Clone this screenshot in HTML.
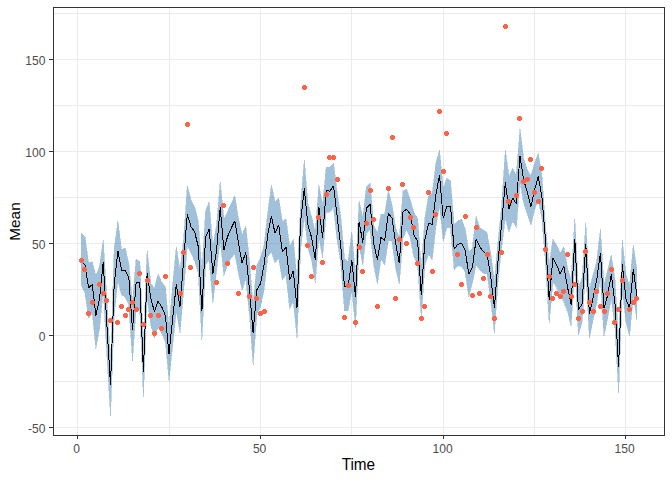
<!DOCTYPE html>
<html><head><meta charset="utf-8"><title>plot</title>
<style>html,body{margin:0;padding:0;background:#fff;}svg{display:block;}text{font-family:"Liberation Sans",sans-serif;}</style></head>
<body>
<svg width="672" height="480" viewBox="0 0 672 480">
<rect x="0" y="0" width="672" height="480" fill="#ffffff"/>
<defs><clipPath id="cp"><rect x="53.50" y="7.50" width="611.20" height="428.00"/></clipPath></defs>
<g stroke="#ebebeb" stroke-width="1" shape-rendering="crispEdges"><line x1="54.00" x2="664.00" y1="427.50" y2="427.50"/><line x1="54.00" x2="664.00" y1="381.50" y2="381.50"/><line x1="54.00" x2="664.00" y1="335.50" y2="335.50"/><line x1="54.00" x2="664.00" y1="289.50" y2="289.50"/><line x1="54.00" x2="664.00" y1="243.50" y2="243.50"/><line x1="54.00" x2="664.00" y1="197.50" y2="197.50"/><line x1="54.00" x2="664.00" y1="151.50" y2="151.50"/><line x1="54.00" x2="664.00" y1="105.50" y2="105.50"/><line x1="54.00" x2="664.00" y1="59.50" y2="59.50"/><line x1="54.00" x2="664.00" y1="13.50" y2="13.50"/><line x1="77.50" x2="77.50" y1="8.00" y2="435.00"/><line x1="169.50" x2="169.50" y1="8.00" y2="435.00"/><line x1="260.50" x2="260.50" y1="8.00" y2="435.00"/><line x1="351.50" x2="351.50" y1="8.00" y2="435.00"/><line x1="443.50" x2="443.50" y1="8.00" y2="435.00"/><line x1="534.50" x2="534.50" y1="8.00" y2="435.00"/><line x1="625.50" x2="625.50" y1="8.00" y2="435.00"/></g>
<g opacity="0.5"><polygon points="81.3,233.0 85.0,236.7 88.6,263.0 92.3,261.5 95.9,275.8 99.6,266.0 103.2,239.5 106.9,299.0 110.5,363.0 114.2,248.3 117.9,220.5 121.5,249.2 125.2,248.0 128.8,263.3 132.5,302.0 136.1,259.2 139.8,261.7 143.4,346.7 147.1,250.5 150.8,282.5 154.4,288.3 158.1,274.2 161.7,282.0 165.4,286.7 169.0,328.0 172.7,285.0 176.3,246.7 180.0,271.0 183.7,238.0 187.3,185.8 191.0,200.0 194.6,206.7 198.3,221.7 201.9,270.0 205.6,210.8 209.2,201.7 212.9,246.7 216.6,225.0 220.2,182.0 223.9,219.0 227.5,211.7 231.2,203.3 234.8,195.8 238.5,219.0 242.1,235.0 245.8,225.8 249.5,262.0 253.1,305.0 256.8,265.0 260.4,258.0 264.1,245.0 267.7,213.0 271.4,185.0 275.0,201.7 278.7,198.0 282.4,221.7 286.0,218.7 289.7,246.7 293.3,239.0 297.0,280.0 300.6,205.0 304.3,160.0 307.9,203.3 311.6,216.7 315.3,232.0 318.9,185.0 322.6,205.0 326.2,167.0 329.9,167.0 333.5,163.0 337.2,193.0 340.8,216.7 344.5,258.0 348.1,261.7 351.8,232.0 355.5,275.0 359.1,200.8 362.8,218.0 366.4,186.7 370.1,183.0 373.7,225.0 377.4,233.0 381.0,214.0 384.7,214.0 388.4,190.8 392.0,205.0 395.7,228.0 399.3,238.0 403.0,190.8 406.6,189.0 410.3,200.0 413.9,212.5 417.6,218.0 421.3,268.0 424.9,218.0 428.6,195.8 432.2,193.3 435.9,163.3 439.5,150.0 443.2,188.3 446.8,178.0 450.5,180.8 454.2,225.0 457.8,220.8 461.5,219.2 465.1,228.3 468.8,251.7 472.4,247.5 476.1,216.3 479.7,227.5 483.4,230.0 487.1,232.5 490.7,253.0 494.4,282.0 498.0,241.7 501.7,205.0 505.3,150.0 509.0,176.7 512.6,168.3 516.3,175.0 520.0,129.2 523.6,158.3 527.3,170.0 530.9,175.8 534.6,163.3 538.2,153.3 541.9,175.0 545.5,226.7 549.2,265.0 552.9,239.2 556.5,245.0 560.2,253.0 563.8,246.7 567.5,268.0 571.1,280.0 574.8,219.2 578.4,287.0 582.1,278.0 585.8,223.3 589.4,290.0 593.1,275.0 596.7,261.7 600.4,229.2 604.0,285.0 607.7,270.0 611.3,255.0 615.0,280.0 618.6,340.0 622.3,240.0 626.0,275.0 629.6,285.0 633.3,245.0 636.9,270.0 636.9,320.0 633.3,295.0 629.6,335.8 626.0,322.0 622.3,290.0 618.6,393.0 615.0,328.0 611.3,298.0 607.7,318.0 604.0,335.8 600.4,278.0 596.7,303.0 593.1,320.0 589.4,338.3 585.8,268.0 582.1,322.0 578.4,335.0 574.8,262.0 571.1,326.3 567.5,311.0 563.8,301.5 560.2,294.5 556.5,287.5 552.9,282.0 549.2,323.3 545.5,262.0 541.9,218.0 538.2,200.0 534.6,210.0 530.9,225.0 527.3,214.0 523.6,203.0 520.0,180.5 516.3,227.5 512.6,221.0 509.0,231.5 505.3,217.5 501.7,246.7 498.0,281.7 494.4,333.0 490.7,300.0 487.1,274.0 483.4,273.3 479.7,270.0 476.1,265.0 472.4,283.0 468.8,296.7 465.1,271.7 461.5,266.7 457.8,265.8 454.2,270.0 450.5,227.5 446.8,227.5 443.2,240.8 439.5,205.0 435.9,226.7 432.2,260.0 428.6,254.0 424.9,265.0 421.3,317.5 417.6,264.0 413.9,256.7 410.3,237.5 406.6,230.0 403.0,238.0 399.3,284.2 395.7,268.3 392.0,241.7 388.4,240.0 384.7,265.0 381.0,259.0 377.4,284.0 373.7,265.0 370.1,230.0 366.4,233.0 362.8,265.0 359.1,245.0 355.5,327.5 351.8,290.0 348.1,310.8 344.5,310.8 340.8,263.0 337.2,240.0 333.5,206.5 329.9,212.0 326.2,212.0 322.6,257.5 318.9,236.7 315.3,282.5 311.6,260.0 307.9,248.0 304.3,216.0 300.6,250.0 297.0,337.5 293.3,301.7 289.7,309.0 286.0,275.0 282.4,280.0 278.7,258.0 275.0,263.0 271.4,252.0 267.7,256.7 264.1,290.0 260.4,306.7 256.8,315.0 253.1,364.7 249.5,315.0 245.8,277.5 242.1,290.0 238.5,273.3 234.8,254.0 231.2,258.0 227.5,265.0 223.9,275.8 220.2,240.0 216.6,270.0 212.9,303.3 209.2,260.0 205.6,265.0 201.9,339.7 198.3,273.3 194.6,260.8 191.0,253.3 187.3,245.0 183.7,290.0 180.0,332.5 176.3,311.0 172.7,345.0 169.0,380.5 165.4,342.0 161.7,333.0 158.1,327.0 154.4,338.0 150.8,325.0 147.1,298.0 143.4,396.7 139.8,310.0 136.1,308.0 132.5,360.8 128.8,305.0 125.2,297.0 121.5,295.0 117.9,280.0 114.2,315.0 110.5,415.8 106.9,355.0 103.2,290.0 99.6,328.0 95.9,348.7 92.3,313.0 88.6,318.3 85.0,293.0 81.3,285.0" fill="#4682b4" stroke="#4682b4" stroke-width="0.6" stroke-linejoin="miter" stroke-miterlimit="30" shape-rendering="crispEdges"/></g>
<polyline points="81.3,260.5 85.0,265.3 88.6,288.0 92.3,284.5 95.9,315.8 99.6,298.0 103.2,262.5 106.9,325.0 110.5,385.0 114.2,284.0 117.9,250.8 121.5,270.0 125.2,270.0 128.8,277.5 132.5,330.0 136.1,282.5 139.8,283.0 143.4,371.7 147.1,273.3 150.8,298.3 154.4,311.7 158.1,301.3 161.7,306.7 165.4,315.8 169.0,354.0 172.7,318.0 176.3,284.5 180.0,306.5 183.7,259.5 187.3,214.2 191.0,226.7 194.6,231.7 198.3,246.7 201.9,311.0 205.6,236.7 209.2,229.2 212.9,273.5 216.6,250.0 220.2,207.5 223.9,250.0 227.5,236.7 231.2,228.3 234.8,220.8 238.5,243.3 242.1,263.0 245.8,252.5 249.5,290.0 253.1,332.5 256.8,290.0 260.4,283.7 264.1,265.0 267.7,235.0 271.4,215.8 275.0,233.3 278.7,225.0 282.4,252.0 286.0,247.0 289.7,280.0 293.3,270.8 297.0,308.0 300.6,221.7 304.3,188.3 307.9,225.0 311.6,237.5 315.3,260.0 318.9,207.5 322.6,237.5 326.2,190.0 329.9,191.3 333.5,185.8 337.2,216.7 340.8,246.7 344.5,286.2 348.1,286.7 351.8,260.0 355.5,296.7 359.1,221.7 362.8,242.5 366.4,208.3 370.1,204.2 373.7,243.3 377.4,260.0 381.0,237.5 384.7,240.5 388.4,213.3 392.0,218.3 395.7,243.3 399.3,263.3 403.0,211.7 406.6,209.2 410.3,214.5 413.9,235.0 417.6,241.0 421.3,295.0 424.9,240.0 428.6,223.0 432.2,224.5 435.9,195.0 439.5,175.0 443.2,218.3 446.8,206.3 450.5,206.3 454.2,249.2 457.8,244.2 461.5,243.3 465.1,250.0 468.8,274.0 472.4,267.5 476.1,239.2 479.7,246.7 483.4,251.7 487.1,254.2 490.7,276.7 494.4,307.5 498.0,261.7 501.7,223.3 505.3,182.5 509.0,208.5 512.6,198.0 516.3,203.7 520.0,155.8 523.6,180.0 527.3,191.7 530.9,206.7 534.6,190.0 538.2,176.3 541.9,196.7 545.5,240.0 549.2,300.0 552.9,258.3 556.5,264.5 560.2,274.0 563.8,266.0 567.5,287.0 571.1,304.5 574.8,239.2 578.4,309.8 582.1,304.0 585.8,244.2 589.4,314.0 593.1,298.0 596.7,280.0 600.4,253.0 604.0,308.3 607.7,295.0 611.3,274.2 615.0,304.0 618.6,366.7 622.3,264.2 626.0,299.0 629.6,308.3 633.3,269.2 636.9,296.0" fill="none" stroke="#000000" stroke-width="1" stroke-linejoin="bevel" shape-rendering="crispEdges"/>
<path d="M80.0 258.0h3v1h1v3h-1v1h-3v-1h-1v-3h1zM83.0 267.0h3v1h1v3h-1v1h-3v-1h-1v-3h1zM87.0 311.0h3v1h1v3h-1v1h-3v-1h-1v-3h1zM91.0 300.0h3v1h1v3h-1v1h-3v-1h-1v-3h1zM98.0 282.0h3v1h1v3h-1v1h-3v-1h-1v-3h1zM102.0 291.0h3v1h1v3h-1v1h-3v-1h-1v-3h1zM105.0 298.0h3v1h1v3h-1v1h-3v-1h-1v-3h1zM109.0 318.0h3v1h1v3h-1v1h-3v-1h-1v-3h1zM116.0 320.0h3v1h1v3h-1v1h-3v-1h-1v-3h1zM120.0 304.0h3v1h1v3h-1v1h-3v-1h-1v-3h1zM124.0 313.0h3v1h1v3h-1v1h-3v-1h-1v-3h1zM127.0 307.0h3v1h1v3h-1v1h-3v-1h-1v-3h1zM131.0 300.0h3v1h1v3h-1v1h-3v-1h-1v-3h1zM135.0 307.0h3v1h1v3h-1v1h-3v-1h-1v-3h1zM138.0 271.0h3v1h1v3h-1v1h-3v-1h-1v-3h1zM142.0 322.0h3v1h1v3h-1v1h-3v-1h-1v-3h1zM146.0 278.0h3v1h1v3h-1v1h-3v-1h-1v-3h1zM149.0 313.0h3v1h1v3h-1v1h-3v-1h-1v-3h1zM153.0 331.0h3v1h1v3h-1v1h-3v-1h-1v-3h1zM157.0 313.0h3v1h1v3h-1v1h-3v-1h-1v-3h1zM160.0 326.0h3v1h1v3h-1v1h-3v-1h-1v-3h1zM164.0 274.0h3v1h1v3h-1v1h-3v-1h-1v-3h1zM179.0 291.0h3v1h1v3h-1v1h-3v-1h-1v-3h1zM182.0 250.0h3v1h1v3h-1v1h-3v-1h-1v-3h1zM186.0 122.0h3v1h1v3h-1v1h-3v-1h-1v-3h1zM189.0 265.0h3v1h1v3h-1v1h-3v-1h-1v-3h1zM215.0 280.0h3v1h1v3h-1v1h-3v-1h-1v-3h1zM222.0 203.0h3v1h1v3h-1v1h-3v-1h-1v-3h1zM226.0 261.0h3v1h1v3h-1v1h-3v-1h-1v-3h1zM237.0 291.0h3v1h1v3h-1v1h-3v-1h-1v-3h1zM248.0 294.0h3v1h1v3h-1v1h-3v-1h-1v-3h1zM252.0 265.0h3v1h1v3h-1v1h-3v-1h-1v-3h1zM255.0 296.0h3v1h1v3h-1v1h-3v-1h-1v-3h1zM259.0 311.0h3v1h1v3h-1v1h-3v-1h-1v-3h1zM263.0 309.0h3v1h1v3h-1v1h-3v-1h-1v-3h1zM303.0 85.0h3v1h1v3h-1v1h-3v-1h-1v-3h1zM306.0 243.0h3v1h1v3h-1v1h-3v-1h-1v-3h1zM310.0 274.0h3v1h1v3h-1v1h-3v-1h-1v-3h1zM317.0 215.0h3v1h1v3h-1v1h-3v-1h-1v-3h1zM321.0 260.0h3v1h1v3h-1v1h-3v-1h-1v-3h1zM325.0 192.0h3v1h1v3h-1v1h-3v-1h-1v-3h1zM328.0 155.0h3v1h1v3h-1v1h-3v-1h-1v-3h1zM332.0 155.0h3v1h1v3h-1v1h-3v-1h-1v-3h1zM336.0 177.0h3v1h1v3h-1v1h-3v-1h-1v-3h1zM343.0 315.0h3v1h1v3h-1v1h-3v-1h-1v-3h1zM347.0 283.0h3v1h1v3h-1v1h-3v-1h-1v-3h1zM354.0 320.0h3v1h1v3h-1v1h-3v-1h-1v-3h1zM358.0 245.0h3v1h1v3h-1v1h-3v-1h-1v-3h1zM361.0 269.0h3v1h1v3h-1v1h-3v-1h-1v-3h1zM365.0 221.0h3v1h1v3h-1v1h-3v-1h-1v-3h1zM369.0 188.0h3v1h1v3h-1v1h-3v-1h-1v-3h1zM372.0 217.0h3v1h1v3h-1v1h-3v-1h-1v-3h1zM376.0 304.0h3v1h1v3h-1v1h-3v-1h-1v-3h1zM387.0 186.0h3v1h1v3h-1v1h-3v-1h-1v-3h1zM391.0 135.0h3v1h1v3h-1v1h-3v-1h-1v-3h1zM394.0 296.0h3v1h1v3h-1v1h-3v-1h-1v-3h1zM398.0 237.0h3v1h1v3h-1v1h-3v-1h-1v-3h1zM401.0 182.0h3v1h1v3h-1v1h-3v-1h-1v-3h1zM405.0 241.0h3v1h1v3h-1v1h-3v-1h-1v-3h1zM409.0 215.0h3v1h1v3h-1v1h-3v-1h-1v-3h1zM412.0 225.0h3v1h1v3h-1v1h-3v-1h-1v-3h1zM416.0 261.0h3v1h1v3h-1v1h-3v-1h-1v-3h1zM420.0 316.0h3v1h1v3h-1v1h-3v-1h-1v-3h1zM423.0 304.0h3v1h1v3h-1v1h-3v-1h-1v-3h1zM427.0 190.0h3v1h1v3h-1v1h-3v-1h-1v-3h1zM431.0 269.0h3v1h1v3h-1v1h-3v-1h-1v-3h1zM434.0 212.0h3v1h1v3h-1v1h-3v-1h-1v-3h1zM438.0 109.0h3v1h1v3h-1v1h-3v-1h-1v-3h1zM442.0 169.0h3v1h1v3h-1v1h-3v-1h-1v-3h1zM445.0 131.0h3v1h1v3h-1v1h-3v-1h-1v-3h1zM456.0 252.0h3v1h1v3h-1v1h-3v-1h-1v-3h1zM460.0 282.0h3v1h1v3h-1v1h-3v-1h-1v-3h1zM464.0 214.0h3v1h1v3h-1v1h-3v-1h-1v-3h1zM471.0 293.0h3v1h1v3h-1v1h-3v-1h-1v-3h1zM475.0 225.0h3v1h1v3h-1v1h-3v-1h-1v-3h1zM478.0 291.0h3v1h1v3h-1v1h-3v-1h-1v-3h1zM482.0 276.0h3v1h1v3h-1v1h-3v-1h-1v-3h1zM486.0 252.0h3v1h1v3h-1v1h-3v-1h-1v-3h1zM489.0 294.0h3v1h1v3h-1v1h-3v-1h-1v-3h1zM493.0 316.0h3v1h1v3h-1v1h-3v-1h-1v-3h1zM500.0 250.0h3v1h1v3h-1v1h-3v-1h-1v-3h1zM504.0 24.0h3v1h1v3h-1v1h-3v-1h-1v-3h1zM507.0 199.0h3v1h1v3h-1v1h-3v-1h-1v-3h1zM515.0 193.0h3v1h1v3h-1v1h-3v-1h-1v-3h1zM518.0 116.0h3v1h1v3h-1v1h-3v-1h-1v-3h1zM522.0 179.0h3v1h1v3h-1v1h-3v-1h-1v-3h1zM526.0 177.0h3v1h1v3h-1v1h-3v-1h-1v-3h1zM529.0 157.0h3v1h1v3h-1v1h-3v-1h-1v-3h1zM533.0 190.0h3v1h1v3h-1v1h-3v-1h-1v-3h1zM537.0 199.0h3v1h1v3h-1v1h-3v-1h-1v-3h1zM540.0 166.0h3v1h1v3h-1v1h-3v-1h-1v-3h1zM544.0 247.0h3v1h1v3h-1v1h-3v-1h-1v-3h1zM548.0 274.0h3v1h1v3h-1v1h-3v-1h-1v-3h1zM551.0 296.0h3v1h1v3h-1v1h-3v-1h-1v-3h1zM555.0 291.0h3v1h1v3h-1v1h-3v-1h-1v-3h1zM559.0 294.0h3v1h1v3h-1v1h-3v-1h-1v-3h1zM562.0 289.0h3v1h1v3h-1v1h-3v-1h-1v-3h1zM566.0 252.0h3v1h1v3h-1v1h-3v-1h-1v-3h1zM570.0 294.0h3v1h1v3h-1v1h-3v-1h-1v-3h1zM573.0 282.0h3v1h1v3h-1v1h-3v-1h-1v-3h1zM577.0 316.0h3v1h1v3h-1v1h-3v-1h-1v-3h1zM581.0 309.0h3v1h1v3h-1v1h-3v-1h-1v-3h1zM584.0 249.0h3v1h1v3h-1v1h-3v-1h-1v-3h1zM588.0 300.0h3v1h1v3h-1v1h-3v-1h-1v-3h1zM592.0 309.0h3v1h1v3h-1v1h-3v-1h-1v-3h1zM595.0 289.0h3v1h1v3h-1v1h-3v-1h-1v-3h1zM599.0 304.0h3v1h1v3h-1v1h-3v-1h-1v-3h1zM603.0 309.0h3v1h1v3h-1v1h-3v-1h-1v-3h1zM606.0 291.0h3v1h1v3h-1v1h-3v-1h-1v-3h1zM610.0 267.0h3v1h1v3h-1v1h-3v-1h-1v-3h1zM613.0 320.0h3v1h1v3h-1v1h-3v-1h-1v-3h1zM617.0 307.0h3v1h1v3h-1v1h-3v-1h-1v-3h1zM621.0 278.0h3v1h1v3h-1v1h-3v-1h-1v-3h1zM628.0 307.0h3v1h1v3h-1v1h-3v-1h-1v-3h1zM632.0 300.0h3v1h1v3h-1v1h-3v-1h-1v-3h1zM635.0 296.0h3v1h1v3h-1v1h-3v-1h-1v-3h1z" fill="#ff6347" shape-rendering="crispEdges"/>
<rect x="53.5" y="7.5" width="611" height="428" fill="none" stroke="#333333" stroke-width="1" shape-rendering="crispEdges"/>
<g stroke="#333333" stroke-width="1" shape-rendering="crispEdges"><line x1="49" x2="53" y1="427.50" y2="427.50"/><line x1="49" x2="53" y1="335.50" y2="335.50"/><line x1="49" x2="53" y1="243.50" y2="243.50"/><line x1="49" x2="53" y1="151.50" y2="151.50"/><line x1="49" x2="53" y1="59.50" y2="59.50"/><line x1="77.50" x2="77.50" y1="436" y2="439"/><line x1="260.50" x2="260.50" y1="436" y2="439"/><line x1="443.50" x2="443.50" y1="436" y2="439"/><line x1="625.50" x2="625.50" y1="436" y2="439"/></g>
<g fill="#4d4d4d" font-size="11.73px"><text transform="translate(45.4,433.10) scale(1.03,1.095)" text-anchor="end">-50</text><text transform="translate(45.4,341.10) scale(1.03,1.095)" text-anchor="end">0</text><text transform="translate(45.4,249.10) scale(1.03,1.095)" text-anchor="end">50</text><text transform="translate(45.4,157.10) scale(1.03,1.095)" text-anchor="end">100</text><text transform="translate(45.4,65.10) scale(1.03,1.095)" text-anchor="end">150</text><text transform="translate(76.60,453.3) scale(1.03,1.095)" text-anchor="middle">0</text><text transform="translate(259.60,453.3) scale(1.03,1.095)" text-anchor="middle">50</text><text transform="translate(442.60,453.3) scale(1.03,1.095)" text-anchor="middle">100</text><text transform="translate(624.60,453.3) scale(1.03,1.095)" text-anchor="middle">150</text></g>
<text transform="translate(358.4,470) scale(1.045,1.07)" text-anchor="middle" font-size="14.67px" fill="#000">Time</text>
<text transform="translate(20.4,221.5) rotate(-90) scale(1.05,0.98)" text-anchor="middle" font-size="14.67px" fill="#000">Mean</text>
</svg>
</body></html>
